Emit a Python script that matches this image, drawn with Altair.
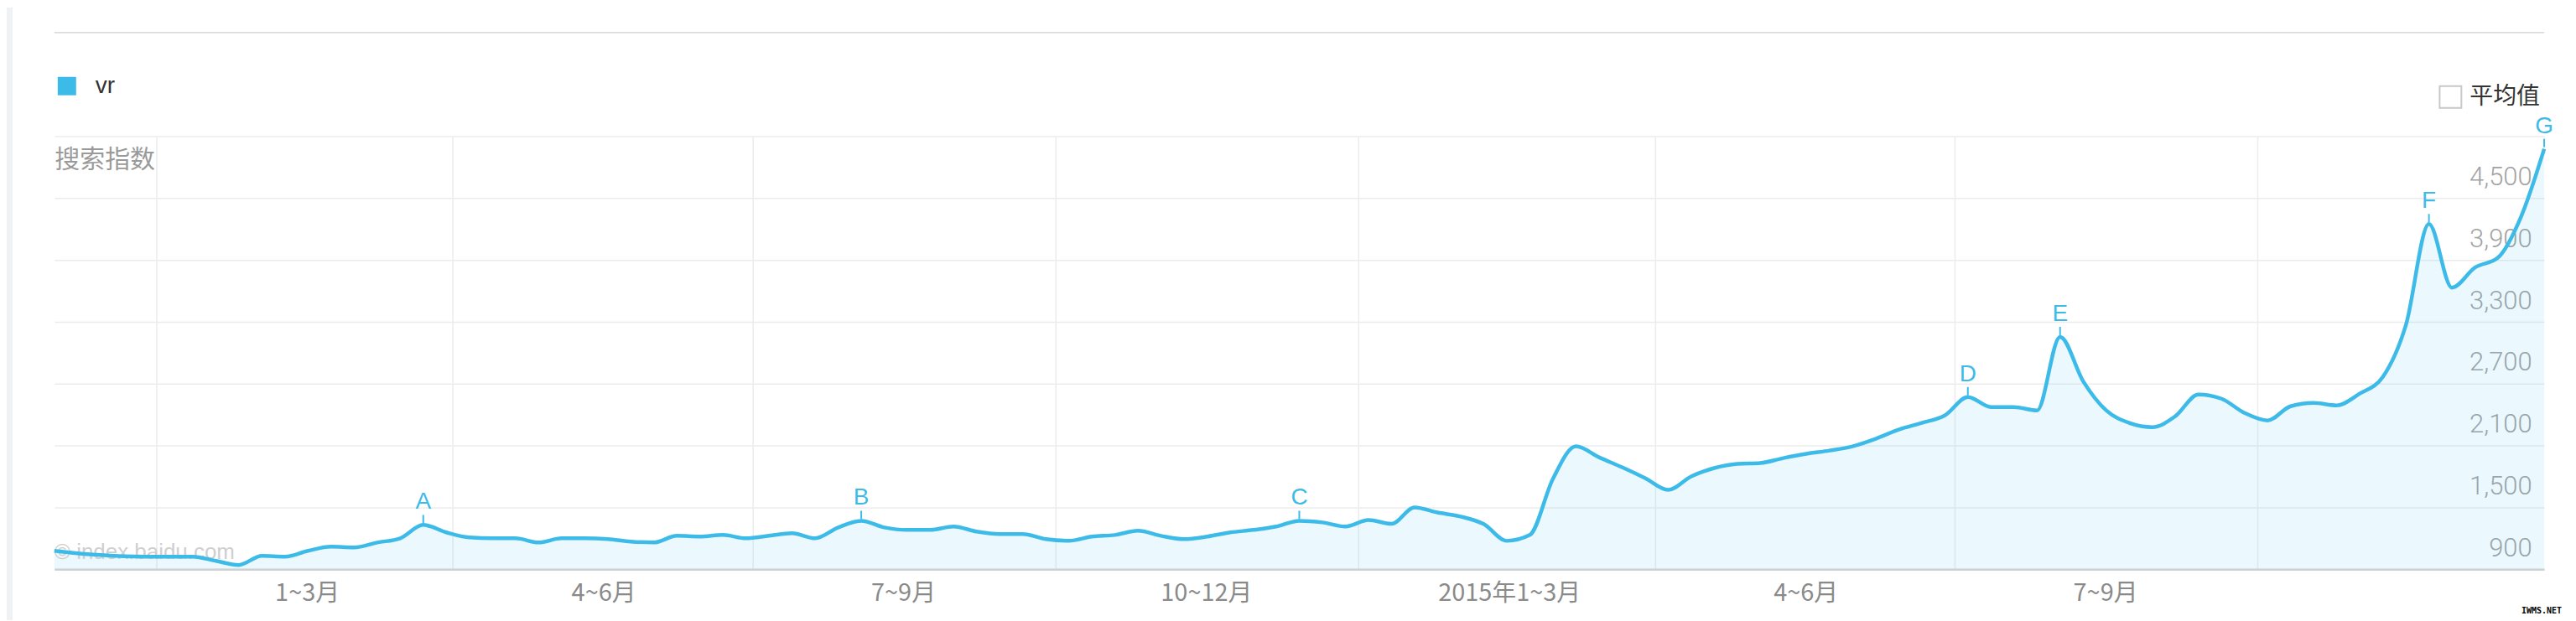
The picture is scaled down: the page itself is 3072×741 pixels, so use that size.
import altair as alt
import pandas as pd

# ---------------- data ----------------
SERIES = "vr"
START = "2013-12-01"
N_WEEKS = 109
VR_INDEX = [
    1078, 1054, 1038, 1026, 1022, 1022, 1022, 981, 941, 1030,
    1022, 1078, 1119, 1111, 1159, 1200, 1330, 1257, 1208, 1200,
    1200, 1159, 1200, 1200, 1192, 1168, 1159, 1224, 1216, 1232,
    1200, 1224, 1249, 1200, 1305, 1370, 1305, 1281, 1281, 1314,
    1265, 1241, 1241, 1192, 1176, 1216, 1232, 1273, 1224, 1192,
    1216, 1257, 1281, 1314, 1370, 1354, 1314, 1378, 1340, 1500,
    1450, 1411, 1338, 1175, 1232, 1776, 2092, 1986, 1889, 1784,
    1670, 1800, 1881, 1922, 1930, 1978, 2019, 2051, 2092, 2165,
    2254, 2319, 2392, 2570, 2473, 2473, 2440, 3154, 2724, 2441,
    2319, 2278, 2384, 2595, 2554, 2416, 2343, 2481, 2513, 2489,
    2603, 2765, 3268, 4249, 3632, 3827, 3924, 4322, 4978,
]
PEAK_LETTERS = ["A", "B", "C", "D", "E", "F", "G"]
PEAK_WEEKS = [16, 35, 54, 83, 87, 103, 108]
QUARTER_STARTS = ["2014-01", "2014-04", "2014-07", "2014-10",
                  "2015-01", "2015-04", "2015-07", "2015-10"]
QUARTER_LABELS = ["1~3月", "4~6月", "7~9月", "10~12月",
                  "2015年1~3月", "4~6月", "7~9月", ""]
Y_MIN = 900
Y_TICKS = [900, 1500, 2100, 2700, 3300, 3900, 4500, 5100]
Y_LABELS = ["900", "1,500", "2,100", "2,700", "3,300", "3,900", "4,500", ""]
Y_TITLE = "搜索指数"
AVG_LABEL = "平均值"
WATERMARK = "© index.baidu.com"

# ---------------- styling ----------------
BLUE = "#3dbbe8"
W, H = 2977, 518
CJK = "Noto Sans CJK SC"

dates = pd.date_range(START, periods=N_WEEKS, freq="7D").strftime("%Y-%m-%dT00:00:00")
df = pd.DataFrame({"date": dates, "value": VR_INDEX, "series": SERIES})
peaks = pd.DataFrame({
    "date": [dates[i] for i in PEAK_WEEKS],
    "value": [VR_INDEX[i] for i in PEAK_WEEKS],
    "letter": PEAK_LETTERS,
})

x_expr = "''"
for s, l in reversed(list(zip(QUARTER_STARTS, QUARTER_LABELS))):
    x_expr = f"timeFormat(datum.value, '%Y-%m') == '{s}' ? '{l}' : {x_expr}"
y_expr = "''"
for v, l in reversed(list(zip(Y_TICKS, Y_LABELS))):
    y_expr = f"datum.value == {v} ? '{l}' : {y_expr}"

x_vals = [alt.DateTime(year=int(s[:4]), month=int(s[5:]), date=1) for s in QUARTER_STARTS]

x_enc = alt.X(
    "date:T",
    title=None,
    axis=alt.Axis(
        values=x_vals, grid=True, gridColor="#ececec", gridWidth=1.5,
        domain=True, domainColor="#d2d2d2", domainWidth=2.5,
        ticks=False, tickSize=0, labelPadding=14, labelOffset=180,
        labelExpr=x_expr, labelFont=CJK, labelFontSize=29, labelColor="#8a8a8a",
        labelOverlap=False, labelFlush=False, labelBound=False,
    ),
)
y_enc = alt.Y(
    "value:Q",
    scale=alt.Scale(domain=[Y_MIN, Y_TICKS[-1]], nice=False, zero=False),
    axis=alt.Axis(
        orient="right", values=Y_TICKS, grid=True, gridColor="#ececec", gridWidth=1.5,
        domain=False, ticks=False, tickSize=0, labelPadding=-15, labelAlign="right",
        labelBaseline="alphabetic", labelOffset=-16, labelExpr=y_expr,
        labelFont="Roboto", labelFontWeight=300, labelFontSize=31, labelColor="#a3a3a3",
        labelOverlap=False, labelFlush=False, labelBound=False,
        title=Y_TITLE, titleAngle=0, titleAlign="left", titleBaseline="top",
        titleX=-W, titleY=13, titleFont=CJK, titleFontSize=30, titleFontWeight="normal",
        titleColor="#9a9a9a",
    ),
)

base = alt.Chart(df).encode(x=x_enc, y=y_enc)

area = base.mark_area(interpolate="monotone", color=BLUE, opacity=0.1).encode(
    y2=alt.datum(Y_MIN)
)

watermark = alt.Chart(pd.DataFrame({"t": [WATERMARK]})).mark_text(
    align="left", baseline="alphabetic", fontSize=26, font="Liberation Sans", color="#cfcfcf"
).encode(x=alt.value(0), y=alt.value(506), text="t:N")

line = base.mark_line(interpolate="monotone", strokeWidth=4.5).encode(
    color=alt.Color(
        "series:N",
        scale=alt.Scale(domain=[SERIES], range=[BLUE]),
        legend=alt.Legend(
            title=None, orient="none", legendX=1, legendY=-74,
            symbolType="square", symbolSize=484, labelFontSize=28, labelFont="Liberation Sans",
            labelColor="#333333", labelOffset=20, padding=0,
            symbolFillColor=BLUE, symbolStrokeColor=BLUE, symbolStrokeWidth=0,
            symbolOpacity=1,
        ),
    )
)

peak_base = alt.Chart(peaks).encode(x=x_enc, y=y_enc)
peak_ticks = peak_base.mark_rule(color=BLUE, strokeWidth=2, yOffset=-2, y2Offset=-12).encode(
    y2=alt.Y2("value:Q")
)
peak_text = peak_base.mark_text(
    color=BLUE, fontSize=28, font="Liberation Sans", baseline="alphabetic", dy=-19
).encode(text="letter:N")

one = pd.DataFrame({"t": [AVG_LABEL]})
separator = alt.Chart(one).mark_rule(color="#dcdcdc", strokeWidth=2).encode(
    x=alt.value(0), x2=alt.value(W), y=alt.value(-124)
)
checkbox = alt.Chart(one).mark_point(
    shape="square", filled=False, size=676, stroke="#c8c8c8", strokeWidth=2, opacity=1
).encode(x=alt.value(2865), y=alt.value(-47))
avg_text = alt.Chart(one).mark_text(
    align="left", baseline="middle", fontSize=28, font=CJK, color="#333333"
).encode(x=alt.value(2888), y=alt.value(-47), text="t:N")
stripe = alt.Chart(one).mark_rect(color="#eef2f5").encode(
    x=alt.value(-57), x2=alt.value(-50), y=alt.value(-154), y2=alt.value(579)
)
iwms = alt.Chart(pd.DataFrame({"t": ["IWMS.NET"]})).mark_text(
    fontSize=10, fontWeight="bold", font="DejaVu Sans Mono", color="#000000"
).encode(x=alt.value(2974), y=alt.value(568), text="t:N")

chart = alt.layer(
    stripe, area, watermark, line, peak_ticks, peak_text, separator, checkbox, avg_text, iwms
).properties(
    width=W, height=H,
    autosize=alt.AutoSizeParams(type="none"),
    padding={"left": 57, "top": 154, "right": 30, "bottom": 60},
    background="#ffffff",
).configure_view(stroke=None)

chart.save("out.html", embed_options={"renderer": "svg", "actions": False})
